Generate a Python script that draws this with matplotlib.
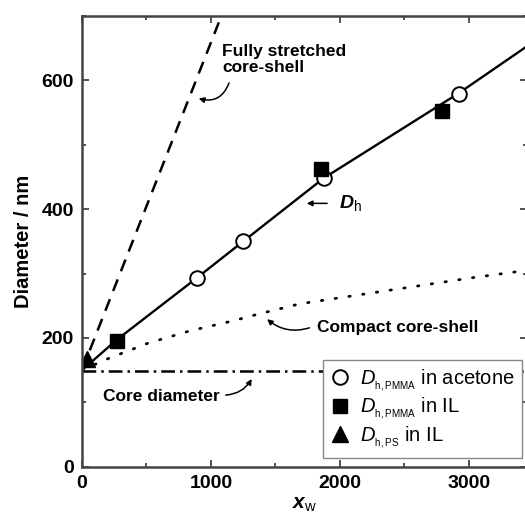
import matplotlib.pyplot as plt
import numpy as np

plt.rcParams['font.family'] = 'Liberation Sans'
plt.rcParams['mathtext.fontset'] = 'custom'
plt.rcParams['mathtext.rm'] = 'Liberation Sans'
plt.rcParams['mathtext.it'] = 'Liberation Sans:italic'
plt.rcParams['mathtext.bf'] = 'Liberation Sans:bold'
plt.rcParams['mathtext.bfit'] = 'Liberation Sans:bold:italic'

# ---- data ----
acetone_x = [889, 1250, 1873, 2920]
acetone_y = [293, 350, 448, 579]
il_pmma_x = [269, 1855, 2790]
il_pmma_y = [196, 463, 553]
il_ps_x = [40]
il_ps_y = [168]

dh_x = [0, 75, 269, 889, 1250, 1873, 2920, 3450]
dh_y = [150, 163, 197, 293, 350, 448, 580, 653]

stretched_x = [0, 1100]
stretched_y = [150, 710]

compact_x = [0, 204, 514, 837, 1160, 1367, 1690, 2349, 3008, 3450]
compact_y = [150, 168, 192, 211, 226, 237, 253, 273, 293, 305]

core_x = [0, 3450]
core_y = [148, 148]

fig = plt.figure(figsize=(5.25, 5.19), dpi=100)
ax = fig.add_axes([82 / 525, 52.3 / 519, 445 / 525, 450.7 / 519])

ax.plot(stretched_x, stretched_y, color='black', lw=1.8, ls=(0, (5, 3.5)))
ax.plot(compact_x, compact_y, color='black', lw=2.0, ls=(0, (0.5, 4.5)),
        dash_capstyle='round')
ax.plot(core_x, core_y, color='black', lw=1.8, ls=(0, (5.5, 2, 1, 2)))
ax.plot(dh_x, dh_y, color='black', lw=1.7)

ax.plot(acetone_x, acetone_y, 'o', ms=10.5, mfc='white', mec='black', mew=1.4,
        label=r'$D_{{}_{\mathrm{h,PMMA}}}$ in acetone')
ax.plot(il_pmma_x, il_pmma_y, 's', ms=10, color='black',
        label=r'$D_{{}_{\mathrm{h,PMMA}}}$ in IL')
ax.plot(il_ps_x, il_ps_y, '^', ms=11.5, color='black',
        label=r'$D_{{}_{\mathrm{h,PS}}}$ in IL')

ax.set_xlim(0, 3450)
ax.set_ylim(0, 700)
ax.set_xticks([0, 1000, 2000, 3000])
ax.set_yticks([0, 200, 400, 600])
ax.set_xticks(np.arange(500, 3450, 1000), minor=True)
ax.set_yticks([100, 300, 500, 700], minor=True)
ax.tick_params(which='both', direction='in', top=True, right=True,
               color='#444444', width=1.3, pad=6)
ax.tick_params(which='major', length=5, labelsize=14)
ax.tick_params(which='minor', length=3)
for lab in ax.get_xticklabels() + ax.get_yticklabels():
    lab.set_fontweight('bold')
for sp in ax.spines.values():
    sp.set_linewidth(1.8)
    sp.set_color('#444444')

ax.set_ylabel('Diameter / nm', fontsize=14.5, fontweight='bold', labelpad=6)
ax.set_xlabel(r'$\mathbfit{x}_{\mathrm{w}}$', fontsize=15, labelpad=2)

bold = dict(fontsize=12.5, fontweight='bold')
ax.text(1085, 657, 'Fully stretched\ncore-shell', va='top', ha='left',
        linespacing=1.15, **bold)
ax.annotate('', xy=(884, 573), xytext=(1147, 600),
            arrowprops=dict(arrowstyle='-|>', color='black', lw=1.1,
                            mutation_scale=8,
                            connectionstyle='arc3,rad=-0.5'))

ax.text(1990, 409, r'$\mathbfit{D}_{\mathrm{h}}$', fontsize=14, va='center',
        ha='left')
ax.annotate('', xy=(1721, 409), xytext=(1922, 409),
            arrowprops=dict(arrowstyle='-|>', color='black', lw=1.1,
                            mutation_scale=8))

ax.text(1822, 209, 'Compact core-shell', va='baseline', ha='left', **bold)
ax.annotate('', xy=(1419, 232), xytext=(1783, 217),
            arrowprops=dict(arrowstyle='-|>', color='black', lw=1.1,
                            mutation_scale=8,
                            connectionstyle='arc3,rad=-0.3'))

ax.text(163, 102, 'Core diameter', va='baseline', ha='left', **bold)
ax.annotate('', xy=(1326, 140), xytext=(1093, 111),
            arrowprops=dict(arrowstyle='-|>', color='black', lw=1.1,
                            mutation_scale=8,
                            connectionstyle='arc3,rad=0.3'))

leg = ax.legend(loc='lower left', bbox_to_anchor=(0.542, 0.02), fontsize=14.5,
                frameon=True, fancybox=False, edgecolor='#888888',
                framealpha=1.0, handletextpad=0.5, labelspacing=0.12,
                borderpad=0.35, handlelength=1.0, borderaxespad=0)
leg.get_frame().set_linewidth(1.0)

fig.savefig('out.png', dpi=100)
